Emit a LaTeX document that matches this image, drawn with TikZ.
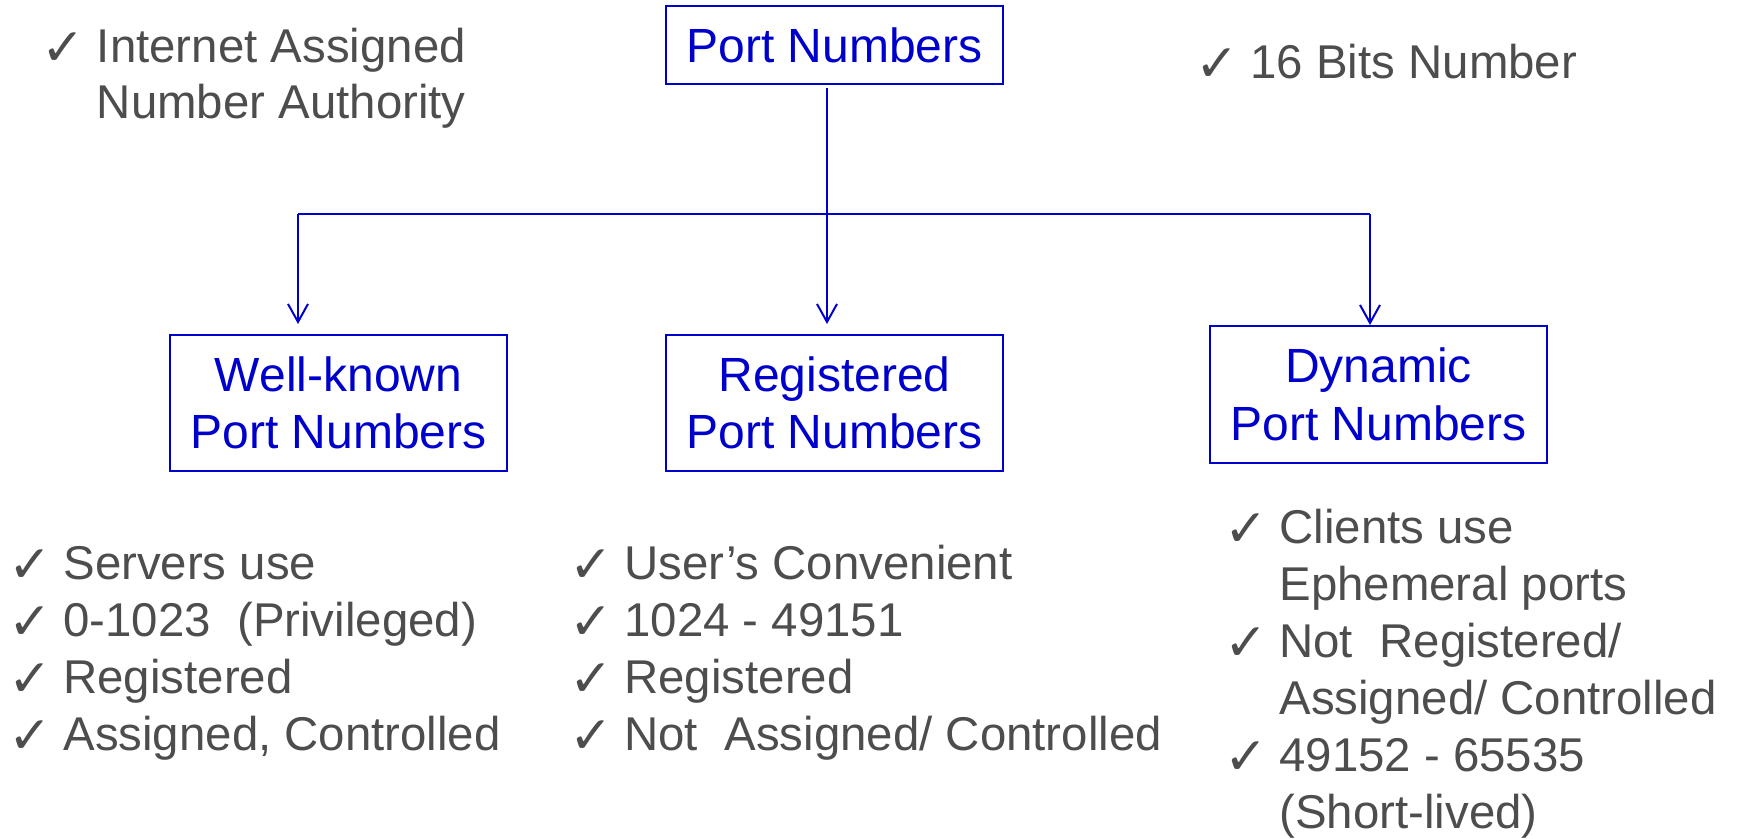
\documentclass[tikz,border=0pt]{standalone}
\usepackage{fontspec}
\setmainfont{Liberation Sans}
\newfontfamily\ckfont{DejaVu Sans}
\usetikzlibrary{arrows.meta,calc}
\definecolor{pblue}{RGB}{0,0,204}
\definecolor{pgray}{RGB}{77,77,77}
\begin{document}
\begin{tikzpicture}[x=0.5pt,y=-0.5pt,
  box/.style={draw=pblue,line width=1pt,text=pblue,align=center,inner sep=0pt,
    minimum width=168.5pt,font=\fontsize{24pt}{28.8pt}\selectfont},
  txt/.style={anchor=base west,inner sep=0pt,text=pgray,font=\fontsize{23.7pt}{28.8pt}\selectfont},
  ck/.style={anchor=base east,inner sep=0pt,text=pgray,font=\ckfont\fontsize{26pt}{26pt}\selectfont},
  ln/.style={draw=pblue,line width=1pt},
  arr/.style={ln,-{Straight Barb[length=9pt,width=10pt,line width=1pt]}}]
\useasboundingbox (0,0) rectangle (1739,839);

% boxes
\node[box,minimum height=39pt] (top) at (834.5,45) {Port Numbers};
\node[box,minimum height=68pt] (wk) at (338.5,403) {Well-known\\Port Numbers};
\node[box,minimum height=68pt] (reg) at (834.5,403) {Registered\\Port Numbers};
\node[box,minimum height=68.5pt] (dyn) at (1378.5,394.5) {Dynamic\\Port Numbers};

% connectors
\coordinate (hub) at (827,214);
\coordinate (L) at (298,214);
\coordinate (R) at (1370,214);
\draw[arr,shorten <=1.5pt] (top.south -| hub) -- ($(hub |- reg.north)+(0,5pt)$);
\draw[ln] (L) -- (R);
\draw[arr] (L) -- ($(L |- wk.north)+(0,5pt)$);
\draw[arr] (R) -- (R |- dyn.north);

% top-left note
\node[txt] (n1) at (96.5,63) {Internet Assigned};
\node[ck] (c1) at ($(n1.base west)+(-11,3)$) {✓};
\node[txt] (n2) at (96.5,119) {Number Authority};
% top-right note
\node[txt] (n3) at (1250,79) {16 Bits Number};
\node[ck] (c3) at ($(n3.base west)+(-11,3)$) {✓};

% left list
\node[txt] (a1) at (63,579) {Servers use};
\node[txt] (a2) at (63,636.3) {0-1023 \ (Privileged)};
\node[txt] (a3) at (63,693.6) {Registered};
\node[txt] (a4) at (63,750.9) {Assigned, Controlled};
\foreach \i in {1,...,4}{\node[ck] (ca\i) at ($(a\i.base west)+(-11,3)$) {✓};}

% middle list
\node[txt] (b1) at (624,579) {User’s Convenient};
\node[txt] (b2) at (624,636.3) {1024 - 49151};
\node[txt] (b3) at (624,693.6) {Registered};
\node[txt] (b4) at (624,750.9) {Not \ Assigned/ Controlled};
\foreach \i in {1,...,4}{\node[ck] (cb\i) at ($(b\i.base west)+(-11,3)$) {✓};}

% right list
\node[txt] (d1) at (1279,543) {Clients use};
\node[txt] (d2) at (1279,600) {Ephemeral ports};
\node[txt] (d3) at (1279,657) {Not \ Registered/};
\node[txt] (d4) at (1279,714) {Assigned/ Controlled};
\node[txt] (d5) at (1279,771) {49152 - 65535};
\node[txt] (d6) at (1279,828) {(Short-lived)};
\foreach \i in {1,3,5}{\node[ck] (cd\i) at ($(d\i.base west)+(-11,3)$) {✓};}
\end{tikzpicture}
\end{document}
